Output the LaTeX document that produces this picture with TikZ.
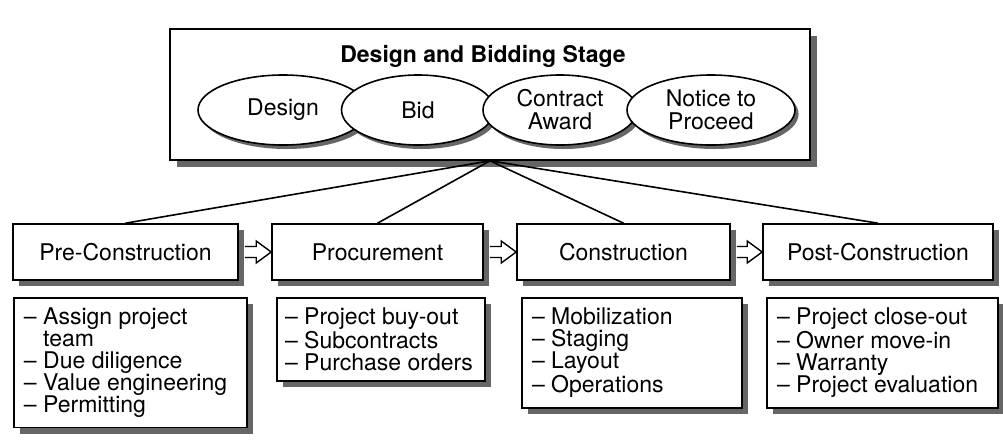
\documentclass[tikz,border=0pt]{standalone}
\usepackage{fontspec}
\setmainfont{TeX Gyre Heros}
\usetikzlibrary{shapes.geometric,shadows,calc}

% hollow block arrow between two phase boxes
\newcommand\phasearrow[2]{%
  \draw[fill=white, line width=0.7pt, line join=miter]
    ($(#1.east)+(6,-5.5)$) -- ($(#2.west)+(-15,-5.5)$) -- ($(#2.west)+(-15,-11)$)
    -- (#2.west) -- ($(#2.west)+(-15,11)$) -- ($(#2.west)+(-15,5.5)$)
    -- ($(#1.east)+(6,5.5)$);}

\begin{document}
\begin{tikzpicture}[x=0.5pt, y=-0.5pt, line width=0.8pt,
        every node/.style={font=\fontsize{11.5}{11}\selectfont},
        boxshadow/.style={drop shadow={shadow xshift=3pt, shadow yshift=-3pt, fill=black!60, opacity=1}},
        phase/.style={draw, fill=white, minimum height=28pt, inner sep=0pt, boxshadow},
        tasks/.style={draw, fill=white, anchor=north, align=flush left, inner xsep=5pt, inner ysep=5pt, boxshadow},
        activity/.style={ellipse, draw, fill=white, inner sep=0pt, minimum height=35pt, align=center,
          font=\fontsize{11.5}{11.5}\selectfont,
          drop shadow={shadow xshift=1.8pt, shadow yshift=-2pt, fill=black!60, opacity=1}}]
        \useasboundingbox (0,0) rectangle (1003,440);
        \node[draw, fill=white, minimum width=320pt, minimum height=65.5pt, inner sep=0pt,
          drop shadow={shadow xshift=3.5pt, shadow yshift=-3.5pt, fill=black!60, opacity=1}] (stage) at (490,94.5) {};
        \node[font=\fontsize{11.5}{12}\selectfont\bfseries] (title) at (483,56) {Design and Bidding Stage};
        \node[activity, minimum width=85pt] (design) at (283,110) {Design};
        \node[activity, minimum width=76.5pt] (bid) at (418,110) {Bid};
        \node[activity, minimum width=77pt] (award) at (560,110) {Contract\\Award};
        \node[activity, minimum width=84pt] (ntp) at (711,110) {Notice to\\Proceed};
        \node[phase, minimum width=112.5pt] (pre) at (125.5,252) {Pre-Construction};
        \node[phase, minimum width=105.5pt] (proc) at (377.5,252) {Procurement};
        \node[phase, minimum width=106.5pt] (cons) at (623.5,252) {Construction};
        \node[phase, minimum width=115pt] (post) at (878,252) {Post-Construction};
        \node[tasks, text width=106.5pt] (prelist) at (130.5,297)
          {-- Assign project\\\hphantom{-- }team\\-- Due diligence\\-- Value engineering\\-- Permitting};
        \node[tasks, inner xsep=4pt, text width=96pt] (proclist) at (381,297)
          {-- Project buy-out\\-- Subcontracts\\-- Purchase orders};
        \node[tasks, text width=100pt] (conslist) at (632,297)
          {-- Mobilization\\-- Staging\\-- Layout\\-- Operations};
        \node[tasks, text width=105.5pt] (postlist) at (882.5,297)
          {-- Project close-out\\-- Owner move-in\\-- Warranty\\-- Project evaluation};
        \draw (stage.south) -- (pre.north);
        \draw (stage.south) -- (proc.north);
        \draw (stage.south) -- (cons.north);
        \draw (stage.south) -- (post.north);
        \phasearrow{pre}{proc}
        \phasearrow{proc}{cons}
        \phasearrow{cons}{post}
\end{tikzpicture}
\end{document}
